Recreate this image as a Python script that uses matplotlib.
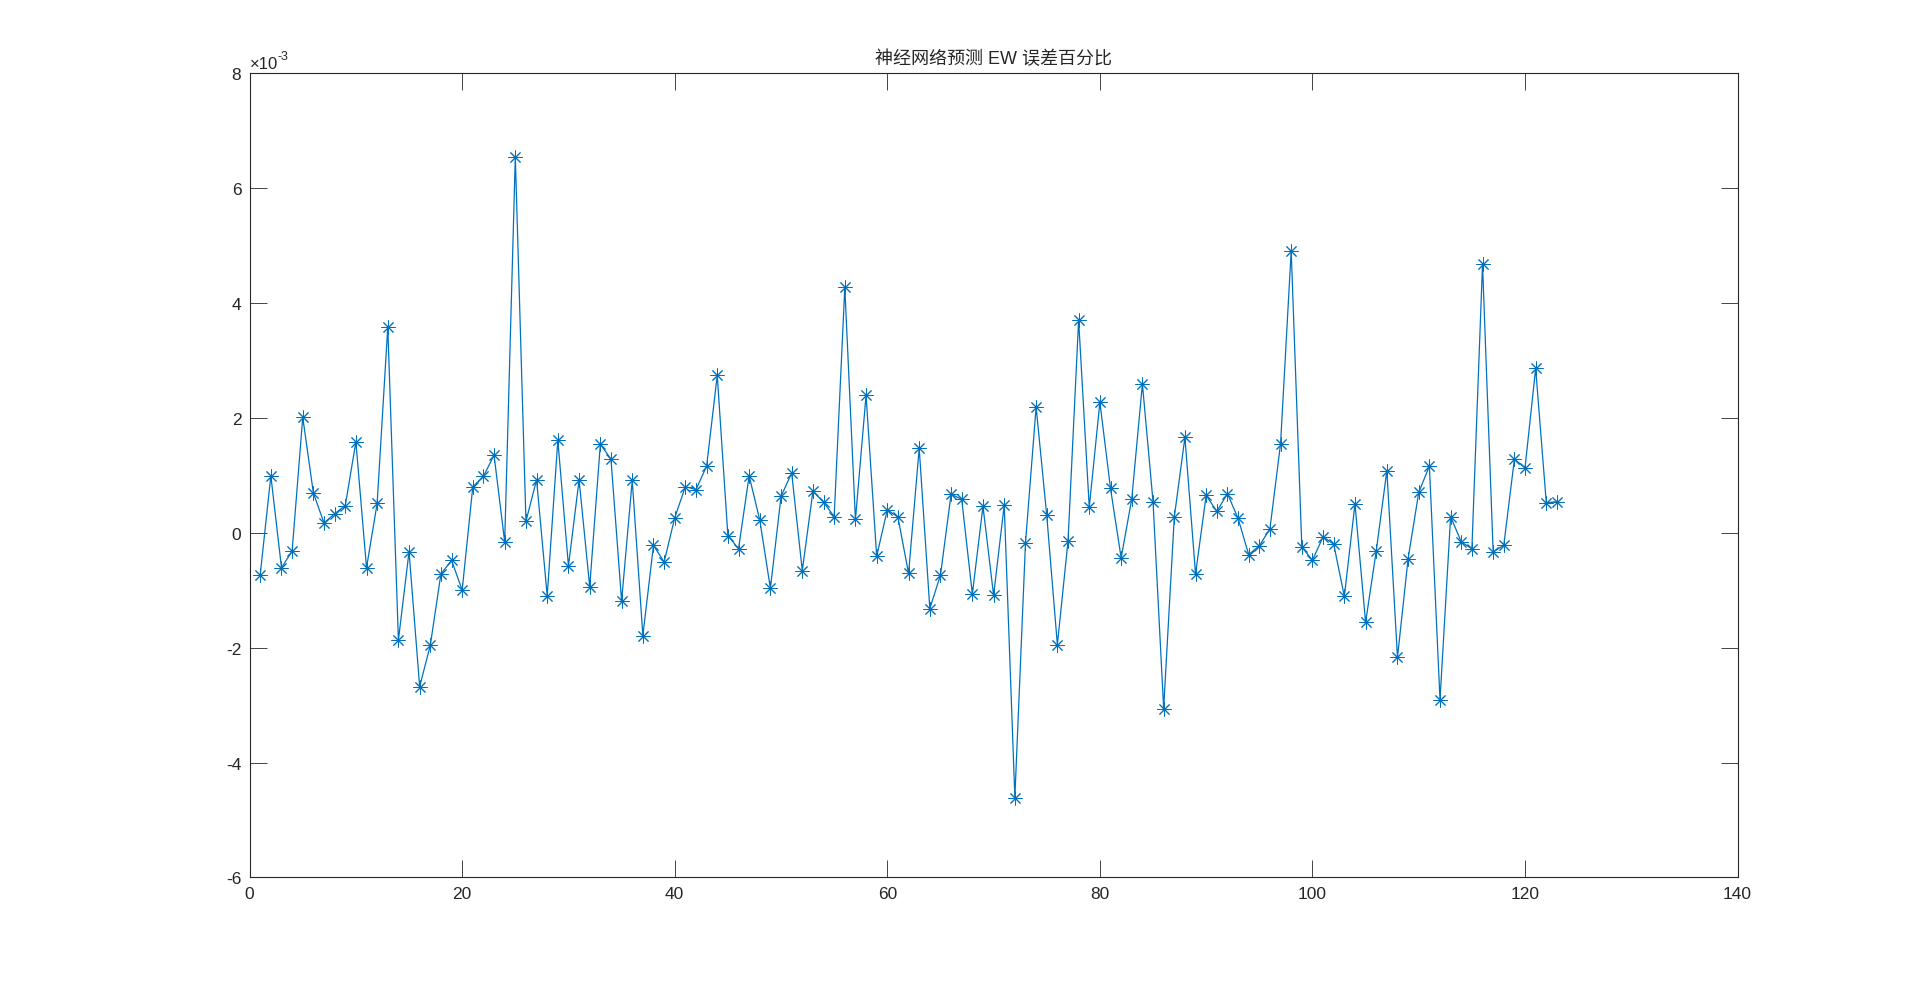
import matplotlib
matplotlib.use("Agg")
import matplotlib.pyplot as plt
import numpy as np

plt.rcParams['font.family'] = ['Liberation Sans', 'Noto Sans CJK SC', 'DejaVu Sans']
plt.rcParams['axes.unicode_minus'] = False

### Error values, in units of 1e-3
sample_idx = np.arange(1, 124)
err_e3 = [
    -0.73, 0.99, -0.61, -0.32, 2.01, 0.69, 0.17, 0.33, 0.47, 1.58,
    -0.61, 0.51, 3.58, -1.87, -0.33, -2.68, -1.96, -0.72, -0.48, -1.00,
    0.80, 0.98, 1.35, -0.16, 6.54, 0.20, 0.92, -1.10, 1.61, -0.58,
    0.92, -0.94, 1.54, 1.28, -1.19, 0.91, -1.79, -0.22, -0.51, 0.26,
    0.80, 0.75, 1.16, 2.74, -0.05, -0.28, 0.99, 0.22, -0.97, 0.63,
    1.04, -0.66, 0.72, 0.53, 0.28, 4.27, 0.23, 2.39, -0.41, 0.40,
    0.27, -0.71, 1.47, -1.32, -0.74, 0.67, 0.58, -1.07, 0.46, -1.09,
    0.48, -4.61, -0.18, 2.19, 0.30, -1.95, -0.15, 3.70, 0.44, 2.27,
    0.77, -0.44, 0.59, 2.59, 0.54, -3.06, 0.27, 1.66, -0.72, 0.65,
    0.37, 0.68, 0.25, -0.38, -0.23, 0.07, 1.55, 4.91, -0.25, -0.48,
    -0.07, -0.20, -1.11, 0.50, -1.56, -0.32, 1.08, -2.17, -0.45, 0.70,
    1.16, -2.91, 0.28, -0.16, -0.28, 4.67, -0.33, -0.22, 1.28, 1.13,
    2.86, 0.52, 0.54,
]
x_ticks = [0, 20, 40, 60, 80, 100, 120, 140]
y_ticks_e3 = [-6, -4, -2, 0, 2, 4, 6, 8]
title_text = '神经网络预测 EW 误差百分比'

err = np.array(err_e3) * 1e-3

fig = plt.figure(figsize=(19.2, 9.87), dpi=100)
ax = fig.add_axes([0.13, 0.11, 0.775, 0.815])

ax.plot(sample_idx, err, color='#0072BD', linewidth=0.9,
        marker=(8, 2, 0), markersize=10, markeredgewidth=0.7)

ax.set_xlim(0, 140)
ax.set_ylim(-6e-3, 8e-3)
ax.set_xticks(x_ticks)
ax.set_yticks(np.array(y_ticks_e3) * 1e-3)
ax.set_xticklabels([str(v) for v in x_ticks])
ax.set_yticklabels([str(v) for v in y_ticks_e3])

ink = '#262626'
for s in ax.spines.values():
    s.set_color(ink)
    s.set_linewidth(0.8)
ax.tick_params(direction='in', length=12, width=0.6, colors=ink,
               labelsize=12.5, pad=6, top=True, right=True)

ax.set_title(title_text, fontsize=13, color=ink, pad=7)

### MATLAB style exponent label above the y axis
t1 = ax.text(0.0, 1.003, '×10', transform=ax.transAxes, fontsize=12,
             color=ink, ha='left', va='bottom')
ax.annotate('-3', xy=(1.0, 0.55), xycoords=t1, fontsize=9, color=ink,
            ha='left', va='bottom')

fig.savefig('out.png', dpi=100, facecolor='white')
